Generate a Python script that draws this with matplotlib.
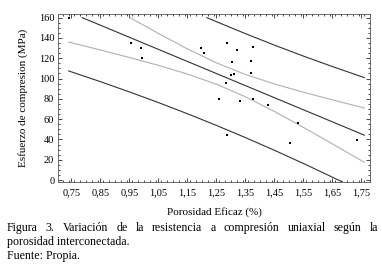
import matplotlib
matplotlib.use("Agg")
import matplotlib.pyplot as plt
from matplotlib.ticker import MultipleLocator, FuncFormatter

plt.rcParams["font.family"] = ["Liberation Serif", "DejaVu Serif"]

# porosidad eficaz (%) y esfuerzo de compresion (MPa)
porosidad = [0.742, 0.956, 0.990, 0.993, 1.197, 1.206, 1.287, 1.320, 1.377,
             1.303, 1.369, 1.300, 1.310, 1.370, 1.283, 1.260, 1.330, 1.375,
             1.428, 1.285, 1.502, 1.530, 1.733]
esfuerzo = [160.0, 134.8, 129.9, 120.3, 130.5, 125.2, 135.4, 127.9, 131.4,
            116.7, 117.3, 103.2, 104.2, 105.8, 96.0, 80.2, 77.6, 79.6,
            74.0, 44.7, 36.5, 56.0, 39.7]

# recta de regresión
ajuste_x = [0.787, 1.76]
ajuste_y = [160.0, 44.2]

# bandas de confianza (gris claro)
conf_sup_x = [0.952, 1.00, 1.05, 1.15, 1.25, 1.35, 1.45, 1.55, 1.65, 1.76]
conf_sup_y = [160.0, 152.4, 144.4, 129.2, 115.4, 104.0, 94.7, 86.5, 79.0, 70.9]
conf_inf_x = [0.74, 0.85, 0.95, 1.05, 1.15, 1.25, 1.35, 1.45, 1.55, 1.65, 1.76]
conf_inf_y = [136.0, 128.1, 120.7, 113.0, 104.4, 94.4, 82.0, 67.5, 51.9, 35.6, 17.5]

# bandas de predicción (gris oscuro)
pred_sup_x = [1.217, 1.25, 1.35, 1.45, 1.55, 1.65, 1.76]
pred_sup_y = [160.0, 156.0, 144.2, 132.9, 122.1, 111.8, 100.9]
pred_inf_x = [0.74, 0.85, 0.95, 1.05, 1.15, 1.25, 1.35, 1.45, 1.55, 1.65, 1.76]
pred_inf_y = [107.5, 96.9, 86.8, 76.3, 65.3, 53.8, 41.8, 29.3, 16.3, 2.8, -12.5]

x_ticks = [0.75, 0.85, 0.95, 1.05, 1.15, 1.25, 1.35, 1.45, 1.55, 1.65, 1.75]

fig = plt.figure(figsize=(3.82, 2.67), dpi=100)
ax = fig.add_axes([0.153, 0.32, 0.816, 0.628])

oscuro = "#333333"
claro = "#b0b0b0"
ax.plot(ajuste_x, ajuste_y, color=oscuro, lw=0.8)
ax.plot(conf_sup_x, conf_sup_y, color=claro, lw=0.8)
ax.plot(conf_inf_x, conf_inf_y, color=claro, lw=0.8)
ax.plot(pred_sup_x, pred_sup_y, color=oscuro, lw=0.8)
ax.plot(pred_inf_x, pred_inf_y, color=oscuro, lw=0.8)
ax.plot(porosidad, esfuerzo, "s", color="black", markersize=1.9, markeredgewidth=0)

ax.set_xlim(0.705, 1.78)
ax.set_ylim(-1.5, 163.7)
ax.set_xticks(x_ticks)
ax.xaxis.set_minor_locator(MultipleLocator(0.02))
ax.yaxis.set_major_locator(MultipleLocator(20))
ax.yaxis.set_minor_locator(MultipleLocator(5))
ax.xaxis.set_major_formatter(FuncFormatter(lambda v, p: f"{v:.2f}".replace(".", ",")))
ax.tick_params(which="both", direction="in", top=True, right=True,
               labelsize=7.5, width=0.5)
ax.tick_params(axis="x", pad=5)
ax.tick_params(axis="y", pad=3)
ax.tick_params(which="major", length=3)
ax.tick_params(which="minor", length=1.5)
for s in ax.spines.values():
    s.set_linewidth(0.6)
    s.set_color("#555555")

ax.set_xlabel("Porosidad Eficaz (%)", fontsize=8, labelpad=7)
ax.set_ylabel("Esfuerzo de compresion (MPa)", fontsize=8, labelpad=8)

# pie de figura justificado
fig.canvas.draw()
renderer = fig.canvas.get_renderer()
linea1 = "Figura 3. Variación de la resistencia a compresión uniaxial según la".split()
x0, x1 = 7 / 382, 378 / 382
objs = [fig.text(0, 1 - 231 / 267, w, fontsize=8.6, va="baseline") for w in linea1]
anchos = [o.get_window_extent(renderer).width / fig.bbox.width for o in objs]
hueco = (x1 - x0 - sum(anchos)) / (len(objs) - 1)
xpos = x0
for o, a in zip(objs, anchos):
    o.set_x(xpos)
    xpos += a + hueco
fig.text(x0, 1 - 245 / 267, "porosidad interconectada.", fontsize=8.6, va="baseline")
fig.text(x0, 1 - 259 / 267, "Fuente: Propia.", fontsize=8.6, va="baseline")

fig.savefig("out.png", dpi=100)
